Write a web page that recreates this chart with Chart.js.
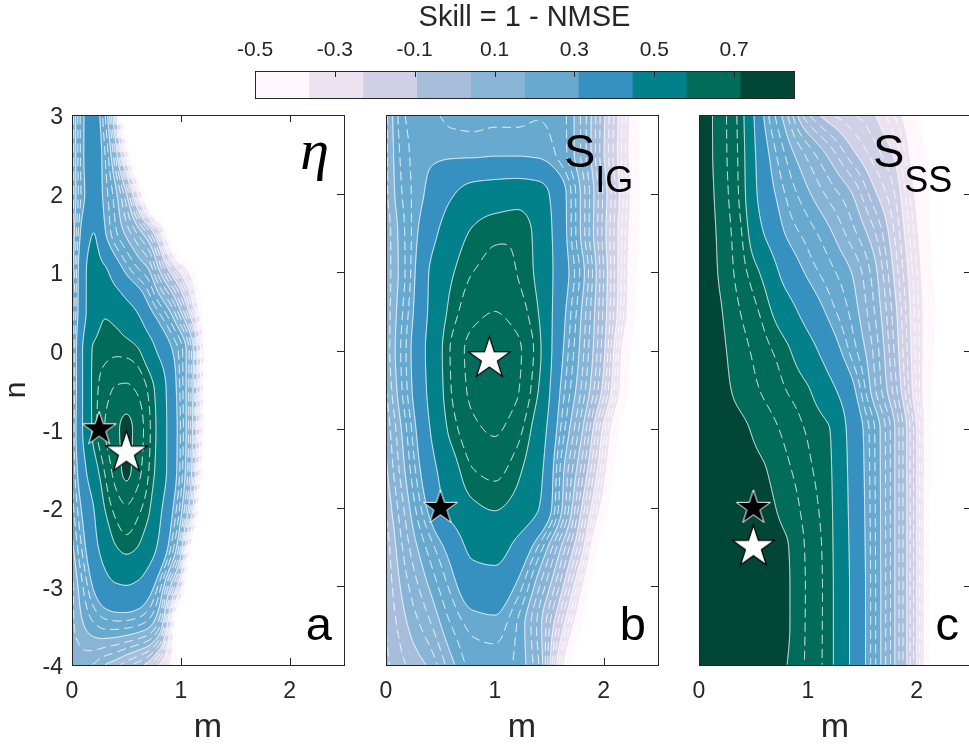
<!DOCTYPE html>
<html>
<head>
<meta charset="utf-8">
<title>Skill = 1 - NMSE</title>
<script src="https://cdn.jsdelivr.net/npm/chart.js@4.4.1/dist/chart.umd.min.js"></script>
<style>
  html, body { margin: 0; padding: 0; background: #fff; }
  #wrap { position: relative; width: 969px; height: 750px; overflow: hidden; }
  #wrap canvas { position: absolute; left: 0; top: 0; }
</style>
</head>
<body>
<div id="wrap">
  <canvas id="cbar" width="969" height="110"></canvas>
  <canvas id="panelA" width="1000" height="750"></canvas>
  <canvas id="panelB" width="1000" height="750"></canvas>
  <canvas id="panelC" width="1000" height="750"></canvas>
</div>
<script>
// contour levels and their fill colours
const LEVELS = [-0.5, -0.365, -0.23, -0.095, 0.04, 0.175, 0.31, 0.445, 0.58, 0.715, 0.85];
const BAND_COLORS = ['#fff7fb', '#ece2f0', '#d0d1e6', '#a6bddb', '#88b4d6', '#67a9cf', '#3690c0', '#02818a', '#016c59', '#014636'];
// bands that also carry dashed intermediate contours
const DASHED_BANDS = [0, 1, 2, 3, 4, 5, 8];
const CB_TICKS = [-0.5, -0.3, -0.1, 0.1, 0.3, 0.5, 0.7];
const M_TICKS = [0, 1, 2];
const N_TICKS = [3, 2, 1, 0, -1, -2, -3, -4];

// n of each grid row (top to bottom)
const N_ROWS = [3, 2.5, 2, 1.5, 1, 0.5, 0, -0.5, -1, -1.5, -2, -2.5, -3, -3.5, -4];

// eta
const M_A = [0, 0.1, 0.2, 0.3, 0.4, 0.5, 0.6, 0.7, 0.8, 0.9, 1.0, 1.1, 1.2, 1.3, 1.5, 2.0, 2.5];
const SKILL_A = [
  [0.10, 0.30, 0.36, 0.23, -0.05, -0.70, -1.00, -1.00, -1.00, -1.00, -1.00, -1.00, -1.00, -1.00, -1.00, -1.00, -1.00],
  [0.10, 0.30, 0.38, 0.27, 0.08, -0.30, -0.75, -1.00, -1.00, -1.00, -1.00, -1.00, -1.00, -1.00, -1.00, -1.00, -1.00],
  [0.10, 0.29, 0.37, 0.29, 0.19, 0.04, -0.23, -0.62, -1.00, -1.00, -1.00, -1.00, -1.00, -1.00, -1.00, -1.00, -1.00],
  [0.12, 0.35, 0.445, 0.32, 0.23, 0.16, 0.08, -0.02, -0.20, -0.55, -0.90, -1.00, -1.00, -1.00, -1.00, -1.00, -1.00],
  [0.15, 0.40, 0.50, 0.47, 0.38, 0.30, 0.24, 0.19, 0.055, -0.095, -0.25, -0.42, -0.70, -1.00, -1.00, -1.00, -1.00],
  [0.18, 0.40, 0.52, 0.57, 0.55, 0.50, 0.44, 0.34, 0.26, 0.175, 0.04, -0.16, -0.50, -0.90, -1.00, -1.00, -1.00],
  [0.20, 0.45, 0.59, 0.61, 0.615, 0.61, 0.59, 0.52, 0.42, 0.33, 0.24, 0.08, -0.32, -0.85, -1.00, -1.00, -1.00],
  [0.20, 0.45, 0.60, 0.65, 0.675, 0.68, 0.665, 0.62, 0.54, 0.39, 0.25, 0.07, -0.33, -0.85, -1.00, -1.00, -1.00],
  [0.22, 0.45, 0.60, 0.67, 0.705, 0.725, 0.70, 0.64, 0.55, 0.40, 0.26, 0.06, -0.35, -0.85, -1.00, -1.00, -1.00],
  [0.22, 0.40, 0.54, 0.63, 0.69, 0.725, 0.69, 0.63, 0.54, 0.40, 0.25, 0.04, -0.42, -0.90, -1.00, -1.00, -1.00],
  [0.20, 0.33, 0.445, 0.58, 0.64, 0.665, 0.64, 0.595, 0.48, 0.35, 0.20, -0.05, -0.60, -1.00, -1.00, -1.00, -1.00],
  [0.16, 0.28, 0.40, 0.50, 0.575, 0.60, 0.58, 0.52, 0.42, 0.28, 0.08, -0.45, -0.90, -1.00, -1.00, -1.00, -1.00],
  [0.12, 0.22, 0.32, 0.39, 0.43, 0.44, 0.42, 0.36, 0.25, 0.05, -0.20, -0.80, -1.00, -1.00, -1.00, -1.00, -1.00],
  [0.12, 0.17, 0.21, 0.235, 0.24, 0.235, 0.22, 0.19, 0.10, -0.20, -0.70, -1.00, -1.00, -1.00, -1.00, -1.00, -1.00],
  [0.10, 0.10, 0.08, 0.04, 0.01, -0.03, -0.07, -0.12, -0.23, -0.37, -0.62, -1.00, -1.00, -1.00, -1.00, -1.00, -1.00]
];

// S_IG
const M_B = [0, 0.2, 0.4, 0.6, 0.8, 1.0, 1.2, 1.4, 1.6, 1.8, 2.0, 2.2, 2.4, 2.5];
const SKILL_B = [
  [0.12, 0.27, 0.275, 0.25, 0.245, 0.25, 0.25, 0.26, 0.24, 0.12, -0.085, -0.31, -0.60, -0.75],
  [0.12, 0.26, 0.30, 0.30, 0.30, 0.305, 0.305, 0.30, 0.25, 0.12, -0.09, -0.32, -0.62, -0.77],
  [0.12, 0.25, 0.33, 0.43, 0.50, 0.52, 0.53, 0.50, 0.36, 0.16, -0.06, -0.30, -0.60, -0.75],
  [0.10, 0.24, 0.39, 0.52, 0.59, 0.615, 0.62, 0.55, 0.37, 0.16, -0.07, -0.32, -0.62, -0.77],
  [0.10, 0.24, 0.45, 0.57, 0.625, 0.64, 0.625, 0.56, 0.38, 0.20, -0.05, -0.33, -0.65, -0.80],
  [0.10, 0.26, 0.46, 0.60, 0.655, 0.67, 0.65, 0.58, 0.36, 0.17, -0.06, -0.34, -0.66, -0.80],
  [0.10, 0.28, 0.48, 0.63, 0.685, 0.70, 0.68, 0.60, 0.34, 0.15, -0.08, -0.42, -0.72, -0.85],
  [0.08, 0.27, 0.47, 0.625, 0.68, 0.695, 0.675, 0.58, 0.31, 0.12, -0.12, -0.45, -0.75, -0.90],
  [0.05, 0.23, 0.44, 0.60, 0.66, 0.675, 0.645, 0.53, 0.27, 0.05, -0.25, -0.60, -0.90, -1.00],
  [0.03, 0.20, 0.39, 0.54, 0.625, 0.64, 0.60, 0.49, 0.22, -0.02, -0.32, -0.68, -1.00, -1.00],
  [0.00, 0.16, 0.33, 0.49, 0.565, 0.585, 0.55, 0.45, 0.20, -0.10, -0.42, -0.80, -1.00, -1.00],
  [-0.03, 0.12, 0.24, 0.35, 0.48, 0.50, 0.41, 0.26, 0.05, -0.20, -0.62, -1.00, -1.00, -1.00],
  [-0.04, 0.08, 0.18, 0.28, 0.37, 0.38, 0.30, 0.14, -0.06, -0.35, -0.75, -1.00, -1.00, -1.00],
  [-0.05, 0.04, 0.12, 0.22, 0.28, 0.29, 0.22, 0.07, -0.18, -0.50, -0.90, -1.00, -1.00, -1.00],
  [-0.06, 0.00, 0.05, 0.16, 0.235, 0.24, 0.21, 0.09, -0.30, -0.70, -1.00, -1.00, -1.00, -1.00]
];

// S_SS
const M_C = [0, 0.2, 0.4, 0.6, 0.8, 1.0, 1.2, 1.4, 1.6, 1.8, 2.0, 2.2, 2.4, 2.5];
const SKILL_C = [
  [0.75, 0.69, 0.591, 0.302, 0.143, -0.04, -0.13, -0.176, -0.223, -0.322, -0.473, -0.65, -0.80, -0.90],
  [0.75, 0.691, 0.597, 0.344, 0.214, 0.116, 0.025, -0.075, -0.157, -0.24, -0.43, -0.62, -0.80, -0.90],
  [0.75, 0.696, 0.602, 0.374, 0.26, 0.184, 0.113, 0.043, -0.077, -0.187, -0.384, -0.58, -0.78, -0.88],
  [0.75, 0.703, 0.621, 0.44, 0.304, 0.244, 0.184, 0.105, 0.008, -0.146, -0.347, -0.58, -0.80, -0.90],
  [0.75, 0.708, 0.64, 0.557, 0.392, 0.297, 0.236, 0.175, 0.067, -0.11, -0.316, -0.56, -0.78, -0.88],
  [0.75, 0.718, 0.664, 0.608, 0.509, 0.388, 0.29, 0.208, 0.094, -0.078, -0.298, -0.53, -0.76, -0.86],
  [0.75, 0.724, 0.685, 0.64, 0.595, 0.50, 0.375, 0.251, 0.127, -0.058, -0.291, -0.55, -0.78, -0.88],
  [0.75, 0.728, 0.699, 0.662, 0.625, 0.587, 0.484, 0.341, 0.153, -0.028, -0.284, -0.58, -0.80, -0.90],
  [0.75, 0.736, 0.722, 0.696, 0.657, 0.619, 0.581, 0.398, 0.233, 0.04, -0.23, -0.62, -0.85, -0.95],
  [0.75, 0.745, 0.728, 0.717, 0.68, 0.634, 0.589, 0.411, 0.236, 0.04, -0.23, -0.62, -0.85, -0.95],
  [0.75, 0.745, 0.735, 0.725, 0.702, 0.648, 0.594, 0.418, 0.239, 0.04, -0.23, -0.65, -0.88, -0.98],
  [0.75, 0.745, 0.737, 0.727, 0.718, 0.66, 0.598, 0.425, 0.241, 0.04, -0.23, -0.65, -0.88, -0.98],
  [0.75, 0.745, 0.738, 0.728, 0.72, 0.663, 0.60, 0.43, 0.243, 0.04, -0.23, -0.65, -0.88, -0.98],
  [0.75, 0.745, 0.738, 0.728, 0.72, 0.662, 0.60, 0.43, 0.243, 0.04, -0.23, -0.65, -0.88, -0.98],
  [0.75, 0.745, 0.737, 0.726, 0.716, 0.66, 0.60, 0.43, 0.243, 0.04, -0.23, -0.65, -0.88, -0.98]
];

// best (white) and reference (black) parameter pairs, {x: m, y: n}
const STARS_A = { white: { x: 0.5, y: -1.3 }, black: { x: 0.25, y: -1 } };
const STARS_B = { white: { x: 0.95, y: -0.1 }, black: { x: 0.5, y: -2 } };
const STARS_C = { white: { x: 0.5, y: -2.5 }, black: { x: 0.5, y: -2 } };

const INK = '#262626';
const SANS = '"Liberation Sans", Arial, Helvetica, sans-serif';
const TICK_LEN = 7;
Chart.defaults.font.family = SANS;
Chart.defaults.color = INK;

// monotone cubic interpolant through (xs, ys)
function pchip(xs, ys) {
  const n = xs.length, h = [], d = [], s = new Array(n);
  for (let i = 0; i < n - 1; i++) {
    h.push(xs[i + 1] - xs[i]);
    d.push((ys[i + 1] - ys[i]) / h[i]);
  }
  s[0] = d[0];
  s[n - 1] = d[n - 2];
  for (let i = 1; i < n - 1; i++) {
    if (d[i - 1] * d[i] <= 0) s[i] = 0;
    else {
      const w1 = 2 * h[i] + h[i - 1], w2 = h[i] + 2 * h[i - 1];
      s[i] = (w1 + w2) / (w1 / d[i - 1] + w2 / d[i]);
    }
  }
  return function (x) {
    let i = 0;
    while (i < n - 2 && x > xs[i + 1]) i++;
    const hh = h[i];
    const t = Math.min(Math.max((x - xs[i]) / hh, 0), 1), t2 = t * t, t3 = t2 * t;
    return (2 * t3 - 3 * t2 + 1) * ys[i] + (t3 - 2 * t2 + t) * hh * s[i] +
           (-2 * t3 + 3 * t2) * ys[i + 1] + (t3 - t2) * hh * s[i + 1];
  };
}

// skill sampled at every pixel of the plot area
function sampleField(chart, ms, grid) {
  const { left, top, right, bottom } = chart.chartArea;
  const xs = chart.scales.x, ys = chart.scales.y;
  const W = Math.round(right - left), H = Math.round(bottom - top);
  const pm = [], pn = [];
  for (let i = 0; i < W; i++) pm.push(xs.getValueForPixel(left + i + 0.5));
  for (let j = 0; j < H; j++) pn.push(ys.getValueForPixel(top + j + 0.5));
  const rows = grid.map(row => pm.map(pchip(ms, row)));
  const nAsc = N_ROWS.slice().reverse();
  const F = new Float32Array(W * H);
  for (let i = 0; i < W; i++) {
    const f = pchip(nAsc, rows.map(r => r[i]).reverse());
    for (let j = 0; j < H; j++) F[j * W + i] = f(pn[j]);
  }
  return { F, W, H, left, top };
}

function hexRgb(hex) {
  return [1, 3, 5].map(k => parseInt(hex.slice(k, k + 2), 16));
}

function bandImage(field) {
  const { F, W, H } = field;
  const off = document.createElement('canvas');
  off.width = W; off.height = H;
  const g = off.getContext('2d');
  const img = g.createImageData(W, H);
  const rgb = BAND_COLORS.map(hexRgb);
  for (let k = 0; k < W * H; k++) {
    const v = F[k];
    if (v < LEVELS[0]) continue;
    let b = BAND_COLORS.length - 1;
    while (b > 0 && v < LEVELS[b]) b--;
    const c = rgb[b], p = k * 4;
    img.data[p] = c[0]; img.data[p + 1] = c[1]; img.data[p + 2] = c[2]; img.data[p + 3] = 255;
  }
  g.putImageData(img, 0, 0);
  return off;
}

// marching squares, segments joined into polylines so dashes run continuously
function traceLevel(field, level) {
  const { F, W, H } = field;
  const pts = new Map(), adj = new Map(), segs = [];
  const hEdge = (i, j) => {
    const id = (j * W + i) * 2;
    if (!pts.has(id)) { const a = F[j * W + i], b = F[j * W + i + 1]; pts.set(id, [i + (level - a) / (b - a), j]); }
    return id;
  };
  const vEdge = (i, j) => {
    const id = (j * W + i) * 2 + 1;
    if (!pts.has(id)) { const a = F[j * W + i], b = F[(j + 1) * W + i]; pts.set(id, [i, j + (level - a) / (b - a)]); }
    return id;
  };
  const add = (e1, e2) => {
    const k = segs.length;
    segs.push([e1, e2]);
    for (const e of [e1, e2]) { const l = adj.get(e); if (l) l.push(k); else adj.set(e, [k]); }
  };
  for (let j = 0; j < H - 1; j++) {
    for (let i = 0; i < W - 1; i++) {
      const a = F[j * W + i], b = F[j * W + i + 1], c = F[(j + 1) * W + i + 1], d = F[(j + 1) * W + i];
      const idx = (a >= level ? 8 : 0) | (b >= level ? 4 : 0) | (c >= level ? 2 : 0) | (d >= level ? 1 : 0);
      if (idx === 0 || idx === 15) continue;
      const T = () => hEdge(i, j), B = () => hEdge(i, j + 1), L = () => vEdge(i, j), R = () => vEdge(i + 1, j);
      const mid = (a + b + c + d) / 4 >= level;
      switch (idx) {
        case 1: case 14: add(L(), B()); break;
        case 2: case 13: add(B(), R()); break;
        case 3: case 12: add(L(), R()); break;
        case 4: case 11: add(T(), R()); break;
        case 6: case 9: add(T(), B()); break;
        case 7: case 8: add(L(), T()); break;
        case 5: if (mid) { add(L(), T()); add(B(), R()); } else { add(L(), B()); add(T(), R()); } break;
        case 10: if (mid) { add(T(), R()); add(L(), B()); } else { add(L(), T()); add(B(), R()); } break;
      }
    }
  }
  const used = new Uint8Array(segs.length), lines = [];
  const walk = (start) => {
    const out = [];
    let e = start;
    for (;;) {
      const list = adj.get(e);
      let next = -1;
      for (const q of list) if (!used[q]) { next = q; break; }
      if (next < 0) break;
      used[next] = 1;
      e = segs[next][0] === e ? segs[next][1] : segs[next][0];
      out.push(e);
    }
    return out;
  };
  for (let k = 0; k < segs.length; k++) {
    if (used[k]) continue;
    used[k] = 1;
    const tail = walk(segs[k][1]);
    const head = walk(segs[k][0]).reverse();
    lines.push(head.concat([segs[k][0], segs[k][1]], tail).map(e => pts.get(e)));
  }
  return lines;
}

function strokeLines(ctx, field, lines) {
  ctx.beginPath();
  for (const line of lines) {
    line.forEach((p, k) => {
      const x = field.left + p[0] + 0.5, y = field.top + p[1] + 0.5;
      if (k) ctx.lineTo(x, y); else ctx.moveTo(x, y);
    });
  }
  ctx.stroke();
}

function makeStar(R, fill, stroke, lw) {
  const c = document.createElement('canvas');
  const s = Math.ceil(2 * R + 2 * lw + 4);
  c.width = c.height = s;
  const g = c.getContext('2d');
  g.beginPath();
  for (let i = 0; i < 10; i++) {
    const r = i % 2 ? R * 0.382 : R;
    const a = -Math.PI / 2 + i * Math.PI / 5;
    g.lineTo(s / 2 + r * Math.cos(a), s / 2 + r * Math.sin(a));
  }
  g.closePath();
  g.fillStyle = fill;
  g.fill();
  g.lineJoin = 'miter';
  g.lineWidth = lw;
  g.strokeStyle = stroke;
  g.stroke();
  return c;
}

const WHITE_STAR = makeStar(22, '#ffffff', '#000000', 1.2);
const BLACK_STAR = makeStar(18, '#000000', '#ffffff', 1);

const PANELS = [
  { canvas: 'panelA', ms: M_A, grid: SKILL_A, stars: STARS_A, letter: 'a', symbol: 'η', left: 72, right: 344, yWidth: 72 },
  { canvas: 'panelB', ms: M_B, grid: SKILL_B, stars: STARS_B, letter: 'b', symbol: 'S', sub: 'IG', symDx: -94, left: 386, right: 658, yWidth: 0 },
  { canvas: 'panelC', ms: M_C, grid: SKILL_C, stars: STARS_C, letter: 'c', symbol: 'S', sub: 'SS', symDx: -98, left: 699, right: 971, yWidth: 0 }
];

function fieldPlugin(panel) {
  return {
    id: 'skillField',
    beforeDatasetsDraw(chart) {
      const ctx = chart.ctx;
      const { left, right, top, bottom } = chart.chartArea;
      const xs = chart.scales.x, ys = chart.scales.y;

      // inward ticks sit underneath the filled contours
      ctx.save();
      ctx.strokeStyle = INK;
      ctx.lineWidth = 1;
      ctx.beginPath();
      M_TICKS.forEach(v => {
        const x = Math.round(xs.getPixelForValue(v)) + 0.5;
        ctx.moveTo(x, bottom); ctx.lineTo(x, bottom - TICK_LEN);
        ctx.moveTo(x, top); ctx.lineTo(x, top + TICK_LEN);
      });
      N_TICKS.forEach(v => {
        const y = Math.round(ys.getPixelForValue(v)) + 0.5;
        ctx.moveTo(left, y); ctx.lineTo(left + TICK_LEN, y);
        ctx.moveTo(right, y); ctx.lineTo(right - TICK_LEN, y);
      });
      ctx.stroke();

      if (!panel.field) {
        panel.field = sampleField(chart, panel.ms, panel.grid);
        panel.image = bandImage(panel.field);
        panel.solid = [];
        panel.dashed = [];
        for (let k = 0; k < LEVELS.length - 1; k++) {
          panel.solid.push(...traceLevel(panel.field, LEVELS[k]));
          if (!DASHED_BANDS.includes(k)) continue;
          const step = LEVELS[k + 1] - LEVELS[k];
          panel.dashed.push(...traceLevel(panel.field, LEVELS[k] + step / 3));
          panel.dashed.push(...traceLevel(panel.field, LEVELS[k] + 2 * step / 3));
        }
      }
      const f = panel.field;
      ctx.drawImage(panel.image, f.left, f.top);

      ctx.beginPath();
      ctx.rect(left, top, right - left, bottom - top);
      ctx.clip();
      ctx.strokeStyle = 'rgba(255,255,255,0.95)';
      ctx.lineWidth = 1;
      ctx.lineJoin = 'round';
      strokeLines(ctx, f, panel.solid);
      ctx.setLineDash([9, 5]);
      strokeLines(ctx, f, panel.dashed);
      ctx.restore();
    },
    afterDatasetsDraw(chart) {
      const ctx = chart.ctx;
      const { left, right, top, bottom } = chart.chartArea;
      ctx.save();
      ctx.strokeStyle = INK;
      ctx.lineWidth = 1;
      ctx.strokeRect(Math.round(left) + 0.5, Math.round(top) + 0.5, Math.round(right - left), Math.round(bottom - top));

      ctx.fillStyle = '#000';
      ctx.textBaseline = 'alphabetic';
      if (panel.sub) {
        ctx.textAlign = 'left';
        ctx.font = '47px ' + SANS;
        const x0 = right + panel.symDx;
        ctx.fillText(panel.symbol, x0, top + 52);
        const w = ctx.measureText(panel.symbol).width;
        ctx.font = '36px ' + SANS;
        ctx.fillText(panel.sub, x0 + w, top + 77);
      } else {
        ctx.textAlign = 'right';
        ctx.font = 'italic 58px "Liberation Serif", "Times New Roman", serif';
        ctx.fillText(panel.symbol, right - 15, top + 54);
      }
      ctx.textAlign = 'right';
      ctx.font = '47px ' + SANS;
      ctx.fillText(panel.letter, right - 12, bottom - 25);
      ctx.restore();
    }
  };
}

PANELS.forEach(panel => {
  const showY = panel.yWidth > 0;
  new Chart(document.getElementById(panel.canvas), {
    type: 'scatter',
    data: {
      datasets: [
        { data: [panel.stars.white], pointStyle: WHITE_STAR, pointRadius: 22 },
        { data: [panel.stars.black], pointStyle: BLACK_STAR, pointRadius: 18 }
      ]
    },
    options: {
      responsive: false,
      animation: false,
      events: [],
      layout: { padding: { left: panel.left - panel.yWidth, right: 1000 - panel.right, top: 115, bottom: 0 } },
      plugins: { legend: { display: false }, tooltip: { enabled: false } },
      scales: {
        x: {
          type: 'linear', min: 0, max: 2.5,
          afterBuildTicks: s => { s.ticks = M_TICKS.map(v => ({ value: v })); },
          afterFit: s => { s.height = 85; },
          grid: { display: false, drawTicks: false },
          border: { display: false },
          ticks: { color: INK, font: { size: 23 }, padding: 13, maxRotation: 0 },
          title: { display: true, text: 'm', color: INK, font: { size: 34 }, padding: { top: 0, bottom: 2 } }
        },
        y: {
          type: 'linear', min: -4, max: 3,
          afterBuildTicks: s => { s.ticks = N_TICKS.map(v => ({ value: v })); },
          afterFit: s => { s.width = panel.yWidth; },
          grid: { display: false, drawTicks: false },
          border: { display: false },
          ticks: { display: showY, color: INK, font: { size: 23 }, padding: 9, labelOffset: 3 },
          title: { display: showY, text: 'n', color: INK, font: { size: 30 }, padding: { top: -1, bottom: 0 } }
        }
      }
    },
    plugins: [fieldPlugin(panel)]
  });
});

// colour bar
const colorbarFrame = {
  id: 'colorbarFrame',
  afterDatasetsDraw(chart) {
    const ctx = chart.ctx;
    const { left, right, top, bottom } = chart.chartArea;
    const xs = chart.scales.x;
    ctx.save();
    ctx.strokeStyle = INK;
    ctx.lineWidth = 1;
    ctx.beginPath();
    CB_TICKS.forEach(v => {
      const x = Math.round(xs.getPixelForValue(v)) + 0.5;
      ctx.moveTo(x, top); ctx.lineTo(x, top + 6);
    });
    ctx.stroke();
    ctx.strokeRect(Math.round(left) + 0.5, Math.round(top) + 0.5, Math.round(right - left), Math.round(bottom - top));
    ctx.restore();
  }
};

new Chart(document.getElementById('cbar'), {
  type: 'bar',
  data: {
    labels: ['skill'],
    datasets: BAND_COLORS.map((c, k) => ({
      data: [[LEVELS[k], LEVELS[k + 1]]],
      backgroundColor: c,
      borderWidth: 0,
      grouped: false,
      barPercentage: 1,
      categoryPercentage: 1
    }))
  },
  options: {
    indexAxis: 'y',
    responsive: false,
    animation: false,
    events: [],
    layout: { padding: { left: 255, right: 175, top: 0, bottom: 12 } },
    plugins: { legend: { display: false }, tooltip: { enabled: false } },
    scales: {
      x: {
        type: 'linear', position: 'top', min: -0.5, max: 0.85,
        afterBuildTicks: s => { s.ticks = CB_TICKS.map(v => ({ value: v })); },
        afterFit: s => { s.height = 71; },
        grid: { display: false, drawTicks: false },
        border: { display: false },
        ticks: { color: INK, font: { size: 21 }, padding: 8, maxRotation: 0 },
        title: { display: true, text: 'Skill = 1 - NMSE', color: INK, font: { size: 29 }, padding: { top: 1, bottom: 0 } }
      },
      y: { type: 'category', display: false }
    }
  },
  plugins: [colorbarFrame]
});
</script>
</body>
</html>
